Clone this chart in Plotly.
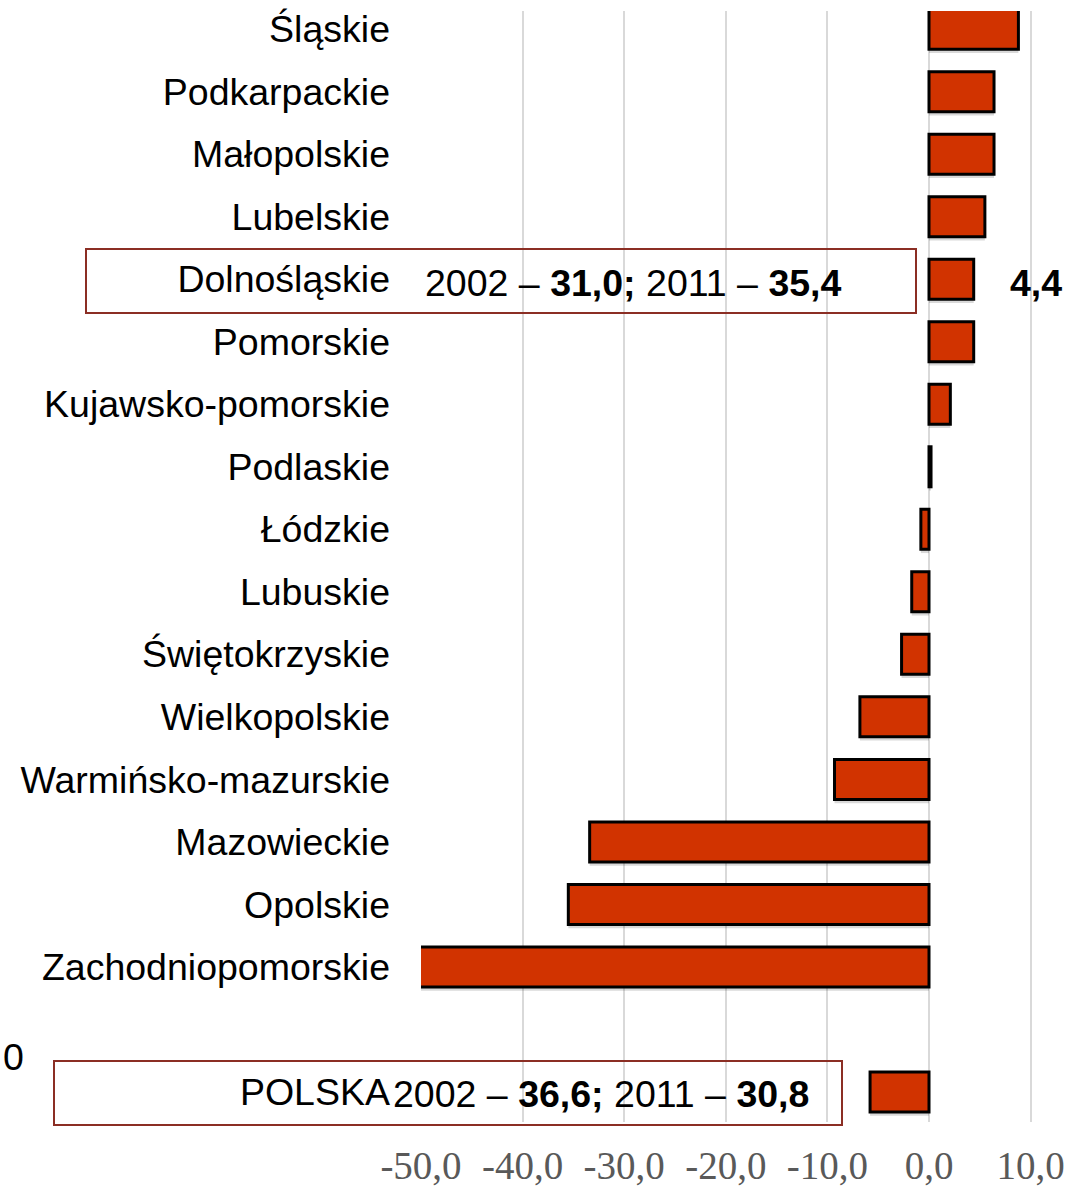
import plotly.graph_objects as go

regions = ["Śląskie", "Podkarpackie", "Małopolskie", "Lubelskie", "Dolnośląskie",
           "Pomorskie", "Kujawsko-pomorskie", "Podlaskie", "Łódzkie", "Lubuskie",
           "Świętokrzyskie", "Wielkopolskie", "Warmińsko-mazurskie", "Mazowieckie",
           "Opolskie", "Zachodniopomorskie", " ", "POLSKA"]
change = [8.8, 6.4, 6.4, 5.5, 4.4, 4.4, 2.1, 0.2, -0.8, -1.7, -2.7, -6.8, -9.3,
          -33.4, -35.5, -55.0, None, -5.8]
tick_vals = [-50, -40, -30, -20, -10, 0, 10]
tick_text = ["-50,0", "-40,0", "-30,0", "-20,0", "-10,0", "0,0", "10,0"]

W, H = 1071, 1191
L, R, T, B = 421, 36, 11, 69
PW, PH = W - L - R, H - T - B


def px(x):
    return (x - L) / PW


def py(y):
    return (H - B - y) / PH


fig = go.Figure()
# soft drop shadow under each bar
fig.add_trace(go.Bar(
    y=regions, x=change, orientation="h", width=0.64, offset=-0.26,
    marker=dict(color="rgba(0,0,0,0.15)", line=dict(width=0)),
    hoverinfo="skip",
))
fig.add_trace(go.Bar(
    y=regions, x=change, orientation="h", width=0.64, offset=-0.32,
    marker=dict(color="#D13300", line=dict(color="#000000", width=3)),
    hoverinfo="x+y",
))

box_color = "#8B2E24"
shapes = [
    dict(type="rect", xref="paper", yref="paper", x0=px(86), x1=px(916),
         y0=py(313), y1=py(249), line=dict(color=box_color, width=2), layer="above"),
    dict(type="rect", xref="paper", yref="paper", x0=px(54), x1=px(842),
         y0=py(1125), y1=py(1061), line=dict(color=box_color, width=2), layer="above"),
]

font_main = dict(family="Liberation Sans, Arial, sans-serif", size=37.5, color="#000000")
annotations = [
    dict(xref="paper", yref="paper", x=px(423), y=py(283), xanchor="left", yanchor="middle",
         text="2002 – <b>31,0;</b> 2011 – <b>35,4</b>", showarrow=False, font=font_main),
    dict(xref="paper", yref="paper", x=px(1008), y=py(283), xanchor="left", yanchor="middle",
         text="<b>4,4</b>", showarrow=False, font=font_main),
    dict(xref="paper", yref="paper", x=px(391), y=py(1094), xanchor="left", yanchor="middle",
         text="2002 – <b>36,6;</b> 2011 – <b>30,8</b>", showarrow=False, font=font_main),
    dict(xref="paper", yref="paper", x=px(1), y=py(1057), xanchor="left", yanchor="middle",
         text="0", showarrow=False, font=font_main),
]

fig.update_layout(
    template="none",
    width=W, height=H,
    margin=dict(l=L, r=R, t=T, b=B, pad=0, autoexpand=False),
    paper_bgcolor="white", plot_bgcolor="white",
    showlegend=False,
    barmode="overlay",
    shapes=shapes,
    annotations=annotations,
    xaxis=dict(range=[-50, -50 + PW / 10.16], tickvals=tick_vals, ticktext=tick_text,
               automargin=False,
               showgrid=True, gridcolor="#d9d9d9", gridwidth=1.5, zeroline=False,
               showline=False, ticks="", ticklabelstandoff=17,
               tickfont=dict(family="Liberation Serif, Times New Roman, serif", size=39,
                             color="#595959")),
    yaxis=dict(type="category", categoryorder="array", categoryarray=regions,
               automargin=False,
               range=[17.48, -0.29], showgrid=False, zeroline=False, showline=False,
               ticks="", ticklabelstandoff=30, tickfont=font_main),
)

fig.write_html("out.html", config={"displayModeBar": False},
               post_script="document.body.style.margin='0';document.body.style.overflow='hidden';")
